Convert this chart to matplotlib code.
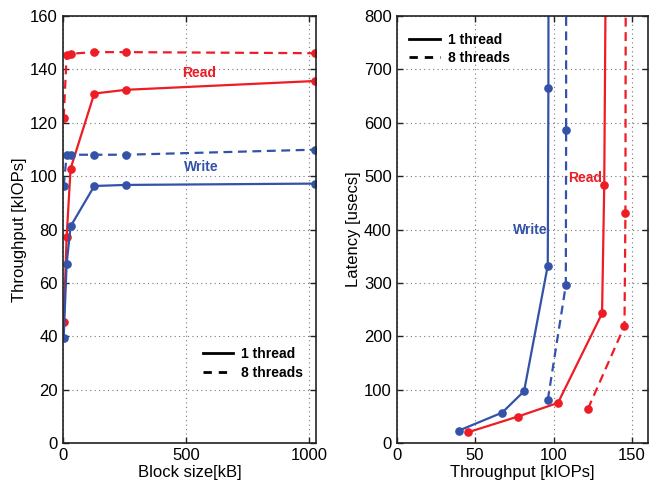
import matplotlib
matplotlib.use("Agg")
import matplotlib.pyplot as plt
from matplotlib.lines import Line2D

plt.rcParams['font.family'] = ['Liberation Sans', 'DejaVu Sans']

# Left panel: throughput vs block size
block_kb = [4, 16, 32, 128, 256, 1024]
read_1t = [45.4, 77.2, 102.8, 130.9, 132.3, 135.6]
write_1t = [39.5, 67.2, 81.2, 96.3, 96.7, 97.2]
read_8t = [121.9, 145.2, 145.8, 146.4, 146.4, 146.0]
write_8t = [96.3, 107.8, 108.0, 108.0, 108.0, 109.9]

# Right panel: latency (usecs) vs throughput (same throughput values)
read_1t_lat = [20.6, 50.0, 75.6, 243.0, 483.0, 1890.0]
write_1t_lat = [23.6, 57.4, 97.5, 332.6, 665.0, 2630.0]
read_8t_lat = [64.4, 219.5, 431.5, 1750.0]
write_8t_lat = [81.0, 295.7, 586.0, 2370.0]
read_8t_tp = [121.9, 145.2, 145.8, 146.4]
write_8t_tp = [96.3, 107.8, 108.0, 108.0]

RED = '#ee1c24'
BLUE = '#3352a8'

fig = plt.figure(figsize=(6.49, 4.86), dpi=100)
ax1 = fig.add_axes([62.7/649, 1-443.3/486, 253.3/649, 427.5/486])
ax2 = fig.add_axes([396.7/649, 1-443.3/486, 251/649, 427.5/486])

lw = 1.6
ms = 5.2
ax1.plot(block_kb, read_8t, '--', color=RED, lw=lw, marker='o', ms=ms, dashes=(4, 2.5))
ax1.plot(block_kb, read_1t, '-', color=RED, lw=lw, marker='o', ms=ms)
ax1.plot(block_kb, write_8t, '--', color=BLUE, lw=lw, marker='o', ms=ms, dashes=(4, 2.5))
ax1.plot(block_kb, write_1t, '-', color=BLUE, lw=lw, marker='o', ms=ms)
ax1.set_xlim(0, 1027)
ax1.set_ylim(0, 160)
ax1.set_xticks([0, 500, 1000])
ax1.set_yticks(range(0, 161, 20))
ax1.set_xlabel('Block size[kB]', fontsize=12, labelpad=1)
ax1.set_ylabel('Throughput [kIOPs]', fontsize=12, labelpad=2)
ax1.text(555, 138.5, 'Read', color=RED, fontsize=10, fontweight='bold', ha='center', va='center')
ax1.text(560, 103.3, 'Write', color=BLUE, fontsize=10, fontweight='bold', ha='center', va='center')

ax2.plot(write_1t, write_1t_lat, '-', color=BLUE, lw=lw, marker='o', ms=ms)
ax2.plot(write_8t_tp, write_8t_lat, '--', color=BLUE, lw=lw, marker='o', ms=ms, dashes=(4, 2.5))
ax2.plot(read_1t, read_1t_lat, '-', color=RED, lw=lw, marker='o', ms=ms)
ax2.plot(read_8t_tp, read_8t_lat, '--', color=RED, lw=lw, marker='o', ms=ms, dashes=(4, 2.5))
ax2.set_xlim(0, 160)
ax2.set_ylim(0, 800)
ax2.set_xticks([0, 50, 100, 150])
ax2.set_yticks(range(0, 801, 100))
ax2.set_xlabel('Throughput [kIOPs]', fontsize=12, labelpad=1)
ax2.set_ylabel('Latency [usecs]', fontsize=12, labelpad=2)
ax2.text(131, 497, 'Read', color=RED, fontsize=10, fontweight='bold', ha='right', va='center')
ax2.text(96.5, 400, 'Write', color=BLUE, fontsize=10, fontweight='bold', ha='right', va='center')

for ax in (ax1, ax2):
    ax.grid(True, linestyle=(0, (1, 3)), color='#777777', lw=0.8)
    ax.tick_params(direction='in', top=True, right=True, labelsize=12, length=4, width=1,
                   color='#222222')
    for s in ax.spines.values():
        s.set_linewidth(1.2)
        s.set_color('#222222')

handles = [Line2D([], [], color='black', lw=2, ls='-'),
           Line2D([], [], color='black', lw=2, ls='--', dashes=(3, 2.5))]
labels = ['1 thread', '8 threads']
leg_kw = dict(frameon=False, prop={'weight': 'bold', 'size': 10}, handlelength=2.2,
              handletextpad=0.6, labelspacing=0.3)
ax1.legend(handles, labels, loc='lower right', bbox_to_anchor=(1.0, 0.12), **leg_kw)
ax2.legend(handles, labels, loc='upper left', bbox_to_anchor=(0.0, 0.99), **leg_kw)

fig.savefig('out.png', dpi=100)
